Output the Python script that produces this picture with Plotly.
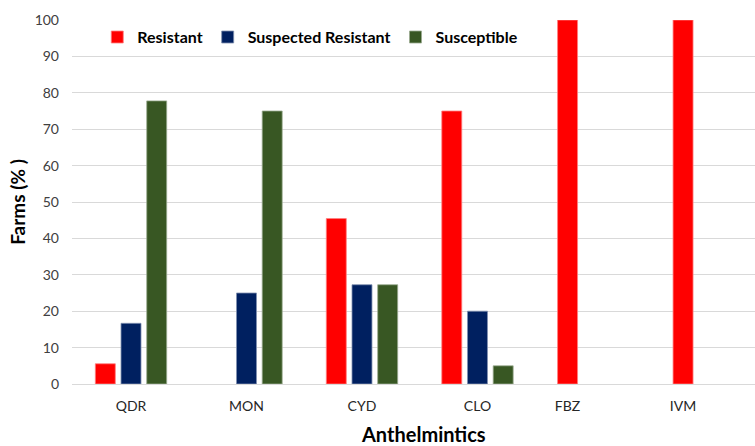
import plotly.graph_objects as go

# Anthelmintic resistance status per drug class (% of farms)
drugs = ["QDR", "MON", "CYD", "CLO", "FBZ", "IVM"]
resistant = [5.56, 0, 45.45, 75, 100, 100]
suspected = [16.67, 25, 27.27, 20, 0, 0]
susceptible = [77.78, 75, 27.27, 5, 0, 0]

series_names = ["Resistant", "Suspected Resistant", "Susceptible"]
colors = ["#FF0000", "#002060", "#385723"]
edge_colors = ["#FF8080", "#8090B0", "#9AAB91"]

# category centres on the x axis (FBZ/IVM carry a single bar each)
centres = [0, 1, 2, 3, 3.78, 4.78]
bar_w = 0.173
step = 0.2225

all_series = [resistant, suspected, susceptible]

fig = go.Figure()
for k, (name, vals) in enumerate(zip(series_names, all_series)):
    xs, ys = [], []
    for i, c in enumerate(centres):
        if not vals[i]:
            continue
        n_present = sum(1 for s in all_series if s[i])
        xs.append(c if n_present == 1 else c + (k - 1) * step)
        ys.append(vals[i])
    fig.add_trace(go.Bar(
        x=xs, y=ys, name=name, width=bar_w,
        marker=dict(color=colors[k], line=dict(color=edge_colors[k], width=0.8)),
    ))

fig.update_layout(
    width=755, height=446,
    margin=dict(l=72, r=0, t=20, b=62),
    paper_bgcolor="white", plot_bgcolor="white",
    font=dict(family="Lato", color="#404040"),
    barmode="overlay",
    showlegend=True,
    legend=dict(
        orientation="h", x=0.037, y=0.953, xanchor="left", yanchor="middle",
        font=dict(size=16, color="#000000", family="Lato", weight="bold"),
        bgcolor="rgba(0,0,0,0)", traceorder="normal",
    ),
    xaxis=dict(
        range=[-0.511, 5.403],
        tickvals=centres, ticktext=drugs,
        tickfont=dict(size=14, color="#262626"),
        showgrid=False, zeroline=False,
        showline=False, ticks="", ticklabelstandoff=12,
    ),
    yaxis=dict(
        range=[0, 100], dtick=10,
        tickfont=dict(size=14, color="#404040"),
        showgrid=True, gridcolor="#D9D9D9", gridwidth=1,
        zeroline=True, zerolinecolor="#D9D9D9", zerolinewidth=1,
        ticks="", ticklabelstandoff=12,
        title=dict(text="Farms (% )", standoff=3,
                   font=dict(size=19, color="#000000", weight="bold")),
    ),
    annotations=[dict(
        text="Anthelmintics", xref="paper", yref="paper",
        x=0.514, y=-0.1374, xanchor="center", yanchor="middle",
        borderpad=0, showarrow=False,
        font=dict(size=20, color="#000000", weight="bold"),
    )],
)

fig.write_html("out.html")
